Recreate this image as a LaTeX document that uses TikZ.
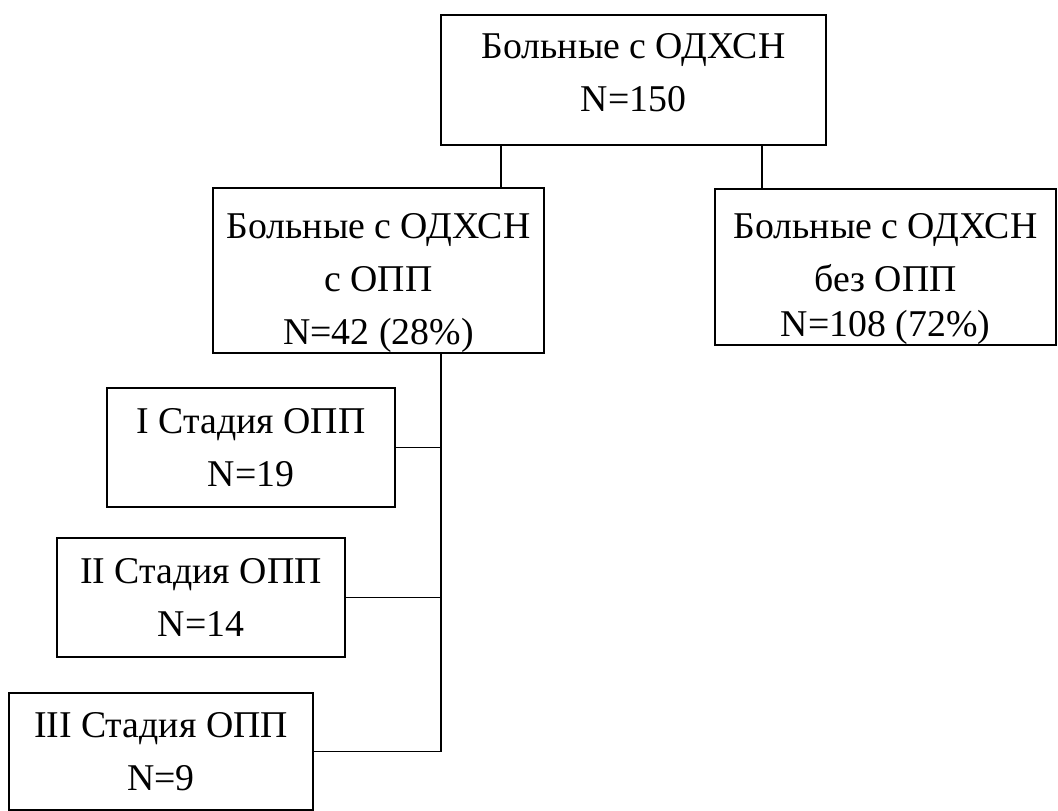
\documentclass[tikz,border=0pt]{standalone}
\usepackage{fontspec}
\setmainfont{Liberation Serif}
\usepackage{tikz}
\usetikzlibrary{positioning}

\begin{document}
\begin{tikzpicture}[
  x=0.5pt, y=-0.5pt,
  font=\fontsize{18.9}{26.5}\selectfont,
  box/.style={draw,align=center,line width=0.8pt,inner sep=0pt},
  link/.style={line width=0.8pt}
]
\useasboundingbox (0,0) rectangle (1058,810);
\node[box, minimum width=192.5pt, minimum height=65pt] (all) at (633.5,80) {Больные с ОДХСН\\N=150\rule[-8pt]{0pt}{0pt}};
\node[box, minimum width=165.5pt, minimum height=82.5pt] (withopp) at (378.5,270.5) {\rule{0pt}{25.5pt}Больные с ОДХСН\\с ОПП\\N=42 (28\%)};
\node[box, minimum width=170.5pt, minimum height=78pt] (noopp) at (885.5,267) {\rule{0pt}{24.8pt}Больные с ОДХСН\\без ОПП\\[-4pt]N=108 (72\%)};
\node[box, minimum width=144pt, minimum height=59.5pt] (st1) at (251,447.5) {I Стадия ОПП\\N=19};
\node[box, minimum width=144pt, minimum height=59.5pt] (st2) at (201,597.5) {II Стадия ОПП\\N=14};
\node[box, minimum width=152pt, minimum height=58.5pt] (st3) at (161,751.5) {III Стадия ОПП\\N=9};
% top level split
\draw[link] (all.south west) ++(61,0) coordinate (t1) -- (t1 |- withopp.north);
\draw[link] (all.south east) ++(-65,0) coordinate (t2) -- (t2 |- noopp.north);
% stages
\draw[link] (withopp.south) ++(62.5,0) coordinate (spine) -- (spine |- st3.east);
\draw[link] (st1.east) -- (st1.east -| spine);
\draw[link] (st2.east) -- (st2.east -| spine);
\draw[link] (st3.east) -- (st3.east -| spine);
\end{tikzpicture}
\end{document}
